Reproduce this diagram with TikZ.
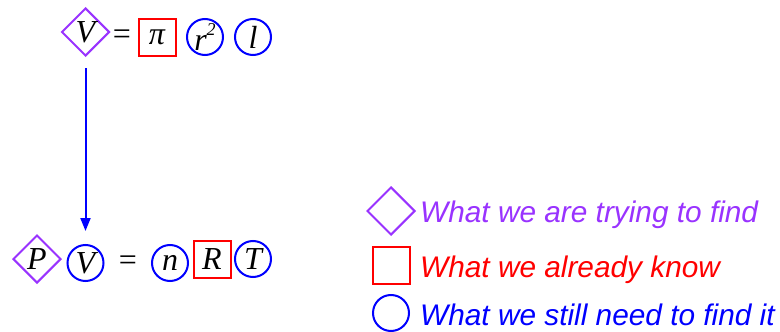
\documentclass[tikz,border=0pt]{standalone}
\usepackage{fontspec}
\setmainfont{Liberation Serif}
\newfontfamily\legfont{Liberation Sans}
\usetikzlibrary{shapes.geometric,arrows.meta}
\definecolor{findc}{RGB}{153,51,255}
\definecolor{knowc}{RGB}{255,0,0}
\definecolor{needc}{RGB}{0,0,255}
\tikzset{
  var/.style={inner sep=0pt, font=\fontsize{32}{32}\selectfont\itshape, line width=2pt},
  findbox/.style={var, draw=findc, diamond, aspect=1, minimum width=48pt, minimum height=48pt},
  knowbox/.style={var, draw=knowc, rectangle, minimum width=37pt, minimum height=37pt},
  needbox/.style={var, draw=needc, circle, minimum size=36pt},
  eqsign/.style={inner sep=0pt, font=\fontsize{32}{32}\selectfont},
  legtext/.style={anchor=base west, inner sep=0pt, font=\legfont\fontsize{29.8}{30}\selectfont\itshape},
  flow/.style={draw=needc, line width=2pt, -{Triangle[length=13pt,width=10pt]}}
}
\begin{document}
\begin{tikzpicture}[x=1pt,y=-1pt]
\useasboundingbox (0,0) rectangle (780,332);
% top equation
\node[findbox] (v1) at (85.5,32) {V};
\node[eqsign] (eq1) at (122,37) {=};
\node[knowbox] (pi) at (157,37) {π};
\node[needbox] (r) at (205,37) {r\raisebox{1.0ex}{\fontsize{18}{18}\selectfont 2}};
\node[needbox] (l) at (253,37) {l};
% bottom equation
\node[findbox] (p) at (37,259) {P};
\node[needbox] (v2) at (85.5,263) {V};
\node[eqsign] (eq2) at (128,263) {=};
\node[needbox] (n) at (170,263) {n};
\node[knowbox] (rr) at (212,259) {R};
\node[needbox] (t) at (253,259) {T};
% arrow
\draw[flow] ([yshift=-11]v1.south) -- ([yshift=13]v2.north);
% legend
\node[findbox] (lf) at (391,211) {};
\node[knowbox] (lk) at (391,265) {};
\node[needbox] (ln) at (391,313) {};
\node[legtext, text=findc] (tf) at (420,222) {What we are trying to find};
\node[legtext, text=knowc] (tk) at (420,277) {What we already know};
\node[legtext, text=needc] (tn) at (420,325) {What we still need to find it};
\end{tikzpicture}
\end{document}
